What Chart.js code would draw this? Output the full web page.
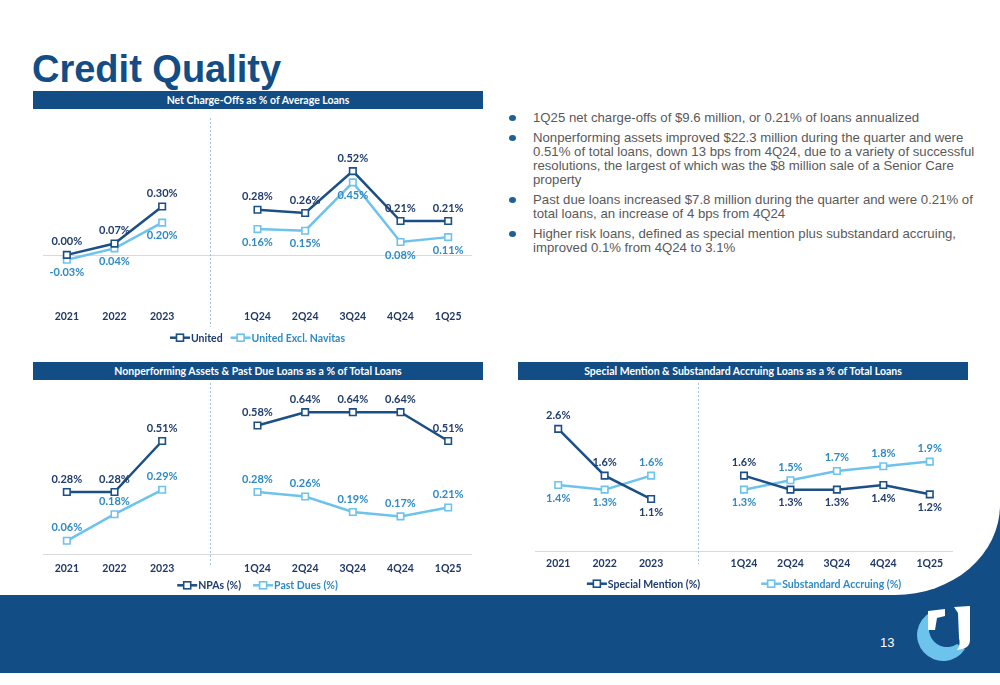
<!DOCTYPE html>
<html>
<head>
<meta charset="utf-8">
<script src="https://cdn.jsdelivr.net/npm/chart.js@4.4.1/dist/chart.umd.min.js"></script>
<style>
  html, body { margin: 0; padding: 0; }
  body { width: 1000px; height: 685px; position: relative; overflow: hidden; background: #fff; font-family: 'Liberation Sans', Arial, sans-serif; }
  #band  { position: absolute; left: 0; top: 490px; width: 1000px; height: 183px; background: #134d85; }
  #panel { position: absolute; left: 0; top: 0; width: 1000px; height: 595px; background: #fff; border-bottom-right-radius: 105px 90px; }
  h1 { position: absolute; left: 32px; top: 51px; margin: 0; font: bold 38px/37px 'Liberation Sans', Arial, sans-serif; color: #134d85; }
  .hdr { position: absolute; height: 18px; background: #134d85; color: #fff; font: bold 10.5px/18px Lato, sans-serif; text-align: center; }
  canvas { position: absolute; }
  ul { position: absolute; left: 533px; top: 111px; margin: 0; padding: 0; list-style: none; color: #595959; font-size: 13.2px; line-height: 14.3px; white-space: nowrap; }
  li { position: relative; margin-bottom: 5.3px; }
  li::before { content: ''; position: absolute; left: -24px; top: 4px; width: 7px; height: 6px; border-radius: 50%; background: #1f5f9c; }
  #pg { position: absolute; left: 880px; top: 635px; color: #fff; font: 13px 'Liberation Sans', Arial, sans-serif; }
  #logo { position: absolute; left: 907px; top: 603px; }
</style>
</head>
<body>
<div id="band"></div>
<div id="panel"></div>
<h1>Credit Quality</h1>

<div class="hdr" style="left:33px;top:91px;width:450px">Net Charge-Offs as % of Average Loans</div>
<canvas id="nco" width="450" height="240" style="left:33px;top:110px"></canvas>

<div class="hdr" style="left:33px;top:362px;width:450px">Nonperforming Assets &amp; Past Due Loans as a % of Total Loans</div>
<canvas id="npa" width="450" height="215" style="left:33px;top:380px"></canvas>

<div class="hdr" style="left:518px;top:362px;width:450px">Special Mention &amp; Substandard Accruing Loans as a % of Total Loans</div>
<canvas id="risk" width="450" height="215" style="left:518px;top:380px"></canvas>

<ul>
  <li>1Q25 net charge-offs of $9.6 million, or 0.21% of loans annualized</li>
  <li>Nonperforming assets improved $22.3 million during the quarter and were<br>0.51% of total loans, down 13 bps from 4Q24, due to a variety of successful<br>resolutions, the largest of which was the $8 million sale of a Senior Care<br>property</li>
  <li>Past due loans increased $7.8 million during the quarter and were 0.21% of<br>total loans, an increase of 4 bps from 4Q24</li>
  <li>Higher risk loans, defined as special mention plus substandard accruing,<br>improved 0.1% from 4Q24 to 3.1%</li>
</ul>

<div id="pg">13</div>
<svg id="logo" width="66" height="62" viewBox="0 0 66 62">
  <path d="M24 9 A26 26 0 1 0 58 46 L50 41 A18 18 0 1 1 30 11 Z" fill="#6cc3ec"/>
  <path d="M21 8 L38 6 L38 13 L30 15 L28 27 L21 27 Z" fill="#fff"/>
  <path d="M47 4 L63 3 L63 37 C63 43 59 46 50 47 C53 43 53 39 52 35 L51 10 Z" fill="#fff"/>
</svg>

<script>
// annual + quarterly credit metrics, the blank slot separates the two groups
const categories = ['2021', '2022', '2023', '', '1Q24', '2Q24', '3Q24', '4Q24', '1Q25'];

const ncoUnited     = [0.00, 0.07, 0.30, null, 0.28, 0.26, 0.52, 0.21, 0.21];
const ncoExNavitas  = [-0.03, 0.04, 0.20, null, 0.16, 0.15, 0.45, 0.08, 0.11];

const npaPct        = [0.28, 0.28, 0.51, null, 0.58, 0.64, 0.64, 0.64, 0.51];
const pastDuePct    = [0.06, 0.18, 0.29, null, 0.28, 0.26, 0.19, 0.17, 0.21];

const specialMention = [2.6, 1.6, 1.1, null, 1.6, 1.3, 1.3, 1.4, 1.2];
const substandardAcc = [1.4, 1.3, 1.6, null, 1.3, 1.5, 1.7, 1.8, 1.9];

const C = {
  dark:      '#1b4f86',
  light:     '#6dc3ec',
  darkText:  '#1f3c6e',
  lightText: '#2e8ac4',
  tick:      '#1f3864',
  grid:      '#d9d9d9',
  divider:   '#9dc3e6',
};

/* ─── Plugins ───────────────────────────────────────────────────── */
const zeroLine = {
  id: 'zeroLine',
  beforeDatasetsDraw(chart) {
    const { ctx, chartArea: a, scales: { y } } = chart;
    const py = Math.round(y.getPixelForValue(0)) + 0.5;
    ctx.save();
    ctx.strokeStyle = C.grid;
    ctx.lineWidth = 1;
    ctx.beginPath(); ctx.moveTo(a.left, py); ctx.lineTo(a.right, py); ctx.stroke();
    ctx.restore();
  }
};

const divider = {
  id: 'divider',
  beforeDatasetsDraw(chart, args, opts) {
    const { ctx, scales: { x } } = chart;
    const px = Math.round(x.getPixelForValue(3)) + 0.5;
    ctx.save();
    ctx.strokeStyle = C.divider;
    ctx.lineWidth = 1;
    ctx.setLineDash([2, 2]);
    ctx.beginPath(); ctx.moveTo(px, opts.top); ctx.lineTo(px, opts.bottom); ctx.stroke();
    ctx.restore();
  }
};

const pointLabels = {
  id: 'pointLabels',
  afterDatasetsDraw(chart, args, opts) {
    const { ctx } = chart;
    const sets = chart.data.datasets;
    ctx.save();
    ctx.font = 'bold 11px Lato, sans-serif';
    ctx.textAlign = 'center';
    ctx.textBaseline = 'middle';
    sets.forEach((ds, i) => {
      chart.getDatasetMeta(i).data.forEach((pt, j) => {
        const v = ds.data[j];
        if (v === null) return;
        let above = true;
        if (opts.mode === 'split') above = v >= sets[1 - i].data[j];
        ctx.fillStyle = ds.labelColor;
        ctx.fillText(v.toFixed(opts.decimals) + '%', pt.x, pt.y + (above ? -13 : 13));
      });
    });
    ctx.restore();
  }
};

const lineLegend = {
  id: 'lineLegend',
  afterDraw(chart, args, opts) {
    const { ctx, chartArea: a } = chart;
    ctx.save();
    ctx.font = 'bold 10.5px Lato, sans-serif';
    const items = chart.data.datasets.map(ds => ({
      text: ds.label, line: ds.borderColor, color: ds.labelColor,
      w: 21 + ctx.measureText(ds.label).width
    }));
    const total = items.reduce((s, it) => s + it.w, 0) + opts.gap * (items.length - 1);
    let x = (a.left + a.right) / 2 - total / 2;
    const y = chart.height - opts.bottom;
    items.forEach(it => {
      ctx.strokeStyle = it.line;
      ctx.lineWidth = 2.5;
      ctx.beginPath(); ctx.moveTo(x, y); ctx.lineTo(x + 20, y); ctx.stroke();
      ctx.fillStyle = '#fff';
      ctx.lineWidth = 1.6;
      ctx.fillRect(x + 6.5, y - 3.5, 7, 7);
      ctx.strokeRect(x + 6.5, y - 3.5, 7, 7);
      ctx.fillStyle = it.color;
      ctx.textAlign = 'left';
      ctx.textBaseline = 'middle';
      ctx.fillText(it.text, x + 21, y + 0.5);
      x += it.w + opts.gap;
    });
    ctx.restore();
  }
};

/* ─── Helper ────────────────────────────────────────────────────── */
function series(label, data, color, textColor) {
  return {
    label, data,
    borderColor: color,
    backgroundColor: '#fff',
    labelColor: textColor,
    borderWidth: 2.5,
    pointStyle: 'rect',
    pointRadius: 4.6,
    pointBorderWidth: 1.6,
    pointBackgroundColor: '#fff',
    pointBorderColor: color,
    spanGaps: false,
    tension: 0,
  };
}

function lineChart(id, datasets, cfg) {
  new Chart(document.getElementById(id), {
    type: 'line',
    data: { labels: categories, datasets },
    plugins: [zeroLine, divider, pointLabels, lineLegend],
    options: {
      responsive: false,
      animation: false,
      events: [],
      layout: { padding: cfg.padding },
      scales: {
        x: {
          offset: true,
          grid: { display: false, drawTicks: false },
          border: { display: false },
          ticks: {
            color: C.tick, padding: cfg.tickPad, autoSkip: false, maxRotation: 0,
            font: { family: 'Lato, sans-serif', weight: 'bold', size: 10.5 }
          }
        },
        y: { display: false, min: cfg.min, max: cfg.max }
      },
      plugins: {
        legend: { display: false },
        tooltip: { enabled: false },
        divider: cfg.divider,
        pointLabels: { mode: cfg.mode, decimals: cfg.decimals },
        lineLegend: cfg.legend,
      }
    }
  });
}

/* ─── Charts ────────────────────────────────────────────────────── */
lineChart('nco', [
  series('United', ncoUnited, C.dark, C.darkText),
  series('United Excl. Navitas', ncoExNavitas, C.light, C.lightText),
], {
  padding: { left: 10, right: 11, top: 20, bottom: 23.4 },
  tickPad: 3.8, min: -0.32, max: 0.775,
  divider: { top: 8, bottom: 217 },
  mode: 'split', decimals: 2,
  legend: { gap: 8, bottom: 12.3 },
});

lineChart('npa', [
  series('NPAs (%)', npaPct, C.dark, C.darkText),
  series('Past Dues (%)', pastDuePct, C.light, C.lightText),
], {
  padding: { left: 10, right: 11, top: 10, bottom: 12.7 },
  tickPad: 7.8, min: 0, max: 0.74,
  divider: { top: 3, bottom: 185 },
  mode: 'above', decimals: 2,
  legend: { gap: 12, bottom: 9.7 },
});

lineChart('risk', [
  series('Special Mention (%)', specialMention, C.dark, C.darkText),
  series('Substandard Accruing (%)', substandardAcc, C.light, C.lightText),
], {
  padding: { left: 17, right: 15, top: 10, bottom: 18.5 },
  tickPad: 6.7, min: 0, max: 3.43,
  divider: { top: 3, bottom: 184 },
  mode: 'split', decimals: 1,
  legend: { gap: 61, bottom: 11.3 },
});
</script>
</body>
</html>
